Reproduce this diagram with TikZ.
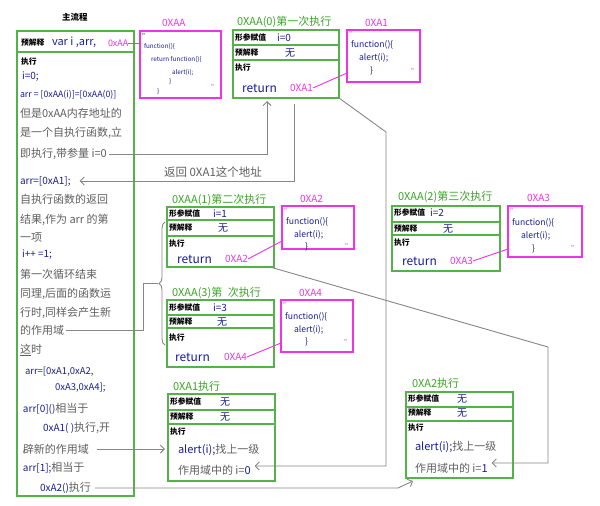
\documentclass[tikz,border=0pt]{standalone}
\usepackage{fontspec}
\setmainfont{Noto Sans CJK SC}
\usetikzlibrary{arrows.meta,calc,decorations.pathreplacing}
\definecolor{gline}{RGB}{84,178,72}
\definecolor{gtitle}{RGB}{60,165,40}
\definecolor{hblue}{RGB}{25,30,150}
\definecolor{mag}{RGB}{240,50,230}
\definecolor{hgray}{RGB}{95,95,95}
\definecolor{cgray}{RGB}{135,135,135}
\tikzset{
  gl/.style={draw=gline, line width=1.1pt},
  gbox/.style={gl, anchor=north west, inner sep=0, outer sep=0},
  mbox/.style={draw=mag, line width=1.1pt, anchor=north west, inner sep=0, outer sep=0},
  txt/.style={anchor=west, inner sep=0, outer sep=0},
  lbl/.style={txt, font=\fontsize{7.8}{8}\bfseries\selectfont, text=black},
  hw/.style={txt, font=\fontsize{11}{12}\selectfont, text=hgray},
  bl/.style={txt, font=\fontsize{10}{11}\selectfont, text=hblue},
  ret/.style={txt, font=\fontsize{12}{13}\selectfont, text=hblue},
  ttl/.style={txt, font=\fontsize{11}{12}\selectfont, text=gtitle},
  mt/.style={txt, font=\fontsize{10}{11}\selectfont, text=mag},
  code/.style={txt, font=\fontsize{8.6}{9}\selectfont, text=hblue},
  tinycode/.style={txt, font=\fontsize{6.3}{7}\selectfont, text=hblue},
  qm/.style={txt, font=\fontsize{7}{8}\selectfont, text=mag},
  conn/.style={draw=cgray, line width=0.9pt},
  arr/.style={conn, -{Straight Barb[length=4pt,width=8pt]}},
  mline/.style={draw=mag, line width=0.9pt},
}
\newcommand\boxrow[2]{\draw[gl] ([yshift=-#2]#1.north west) -- ([yshift=-#2]#1.north east);}
\begin{document}
\begin{tikzpicture}[x=1pt,y=-1pt]
\fill[white] (0,0) rectangle (600,506);
\useasboundingbox (0,0) rectangle (600,506);

% ---------------- main flow ----------------
\node[txt, font=\fontsize{8.5}{9}\bfseries\selectfont] (mtitle) at (62,17) {主流程};
\node[gbox, minimum width=117pt, minimum height=465pt] (main) at (17,31) {};
\boxrow{main}{21pt}
\node[lbl] (mpre) at (21,43) {预解释};
\node[bl, font=\fontsize{11}{11}\selectfont] (mvar) at (52,42) {var i ,arr,};
\node[mt, font=\fontsize{9}{10}\selectfont] (m0xAA) at (108,43) {0xAA};

\node[lbl] (t01) at (21,62) {执行};
\node[bl] (t02) at (22,77) {i=0;};
\node[bl, font=\fontsize{8.8}{9}\selectfont] (t03) at (20,95) {arr = [0xAA(i)]=[0xAA(0)]};
\node[hw] (t04) at (20,113) {但是0xAA内存地址的};
\node[hw] (t05) at (20,133) {是一个自执行函数,立};
\node[hw] (t06) at (20,154) {即执行,带参量 i=0};
\node[bl] (t07) at (20,181) {arr=[0xA1];};
\node[hw] (t08) at (20,199) {自执行函数的返回};
\node[hw] (t09) at (20,220) {结果,作为 arr 的第};
\node[hw] (t10) at (20,238) {一项};
\node[bl] (t11) at (22,255) {i++ =1;};
\node[hw] (t12) at (20,274) {第一次循环结束};
\node[hw] (t13) at (20,294) {同理,后面的函数运};
\node[hw] (t14) at (20,313) {行时,同样会产生新};
\node[hw] (t15) at (20,330) {的作用域};
\node[hw] (t16) at (20,350) {\underline{这}时};
\node[bl, font=\fontsize{9.5}{10}\selectfont] (t17) at (25,372) {arr=[0xA1,0xA2,};
\node[bl, font=\fontsize{9.5}{10}\selectfont] (t18) at (55,388) {0xA3,0xA4];};
\node[hw] (t19) at (23,409) {{\color{hblue}\fontsize{10}{11}\selectfont arr[0]()}相当于};
\node[hw] (t20) at (43,428) {{\color{hblue}\fontsize{10}{11}\selectfont 0xA1( )}执行,开};
\node[hw] (t21) at (23,449) {辟新的作用域};
\node[hw] (t22) at (23,468) {{\color{hblue}\fontsize{10}{11}\selectfont arr[1];}相当于};
\node[hw] (t23) at (40,488) {{\color{hblue}\fontsize{10}{11}\selectfont 0xA2()}执行};

% ---------------- 0xAA function body ----------------
\node[mt] (lAA) at (162,23) {0XAA};
\node[mbox, minimum width=81pt, minimum height=67pt] (mAA) at (140,31) {};
\node[qm, text=hblue] (qAA1) at (142,37) {"};
\node[tinycode] (cAA1) at (144,47) {function()\{};
\node[tinycode] (cAA2) at (151,60) {return function()\{};
\node[tinycode] (cAA3) at (172,73) {alert(i);};
\node[tinycode] (cAA4) at (169,82) {\}};
\node[tinycode] (cAA5) at (157,92) {\}};
\node[qm] (qAA2) at (211,88) {"};
\draw[mline] (m0xAA.east) -- (mAA.west |- m0xAA.east);

% ---------------- 0xAA(0) ----------------
\node[ttl] (tt0) at (237,22) {0XAA(0)第一次执行};
\node[gbox, minimum width=106pt, minimum height=68pt] (b0) at (233,30) {};
\boxrow{b0}{15pt}\boxrow{b0}{30pt}
\node[lbl] (b0l1) at (235,38) {形参赋值};
\node[bl] (b0v1) at (277,38) {i=0};
\node[lbl] (b0l2) at (235,53) {预解释};
\node[bl] (b0v2) at (285,53) {无};
\node[lbl] (b0l3) at (235,68) {执行};
\node[ret] (b0r) at (242,88) {return};
\node[mt] (b0a) at (290,88) {0XA1};

\node[mt] (lA1) at (365,23) {0XA1};
\node[mbox, minimum width=73pt, minimum height=52pt] (mA1) at (347,30) {};
\node[qm] (qA1a) at (349,35) {"};
\node[code] (cA1a) at (351,45) {function()\{};
\node[code] (cA1b) at (359,58) {alert(i);};
\node[code] (cA1c) at (370,71) {\}};
\node[qm] (qA1b) at (411,72) {"};
\draw[mline] (b0a.east) -- ($(mA1.south west)+(0,-9)$);

% ---------------- 0xAA(1) ----------------
\node[ttl] (tt1) at (172,200) {0XAA(1)第二次执行};
\node[gbox, minimum width=107pt, minimum height=60pt] (b1) at (167,207) {};
\boxrow{b1}{13pt}\boxrow{b1}{29pt}
\node[lbl] (b1l1) at (169,214) {形参赋值};
\node[bl] (b1v1) at (213,214) {i=1};
\node[lbl] (b1l2) at (169,228) {预解释};
\node[bl] (b1v2) at (218,228) {无};
\node[lbl] (b1l3) at (169,244) {执行};
\node[ret] (b1r) at (177,259) {return};
\node[mt] (b1a) at (225,259) {0XA2};

\node[mt] (lA2) at (300,199) {0XA2};
\node[mbox, minimum width=72pt, minimum height=43pt] (mA2) at (282,206) {};
\node[qm] (qA2a) at (284,212) {"};
\node[code] (cA2a) at (286,222) {function()\{};
\node[code] (cA2b) at (294,235) {alert(i);};
\node[code] (cA2c) at (305,247) {\}};
\node[qm] (qA2b) at (345,247) {"};
\draw[mline] (b1a.east) -- ($(mA2.south west)+(0,-8)$);

% ---------------- 0xAA(2) ----------------
\node[ttl] (tt2) at (398,197) {0XAA(2)第三次执行};
\node[gbox, minimum width=108pt, minimum height=65pt] (b2) at (392,206) {};
\boxrow{b2}{16pt}\boxrow{b2}{29pt}
\node[lbl] (b2l1) at (394,213) {形参赋值};
\node[bl] (b2v1) at (430,213) {i=2};
\node[lbl] (b2l2) at (394,229) {预解释};
\node[bl] (b2v2) at (443,229) {无};
\node[lbl] (b2l3) at (394,243) {执行};
\node[ret] (b2r) at (402,261) {return};
\node[mt] (b2a) at (450,261) {0XA3};

\node[mt] (lA3) at (527,198) {0XA3};
\node[mbox, minimum width=74pt, minimum height=51pt] (mA3) at (508,206) {};
\node[qm] (qA3a) at (510,212) {"};
\node[code] (cA3a) at (512,223) {function()\{};
\node[code] (cA3b) at (521,236) {alert(i);};
\node[code] (cA3c) at (532,249) {\}};
\node[qm] (qA3b) at (571,249) {"};
\draw[mline] (b2a.east) -- ($(mA3.south west)+(0,-8)$);

% ---------------- 0xAA(3) ----------------
\node[ttl] (tt3) at (172,293) {0XAA(3)第\,\,\,次执行};
\node[gbox, minimum width=107pt, minimum height=67pt] (b3) at (167,300) {};
\boxrow{b3}{15pt}\boxrow{b3}{28pt}
\node[lbl] (b3l1) at (169,308) {形参赋值};
\node[bl] (b3v1) at (213,308) {i=3};
\node[lbl] (b3l2) at (169,322) {预解释};
\node[bl] (b3v2) at (217,322) {无};
\node[lbl] (b3l3) at (169,338) {执行};
\node[ret] (b3r) at (175,357) {return};
\node[mt] (b3a) at (224,357) {0XA4};

\node[mt] (lA4) at (299,293) {0XA4};
\node[mbox, minimum width=72pt, minimum height=52pt] (mA4) at (281,300) {};
\node[qm] (qA4a) at (283,306) {"};
\node[code] (cA4a) at (285,317) {function()\{};
\node[code] (cA4b) at (294,330) {alert(i);};
\node[code] (cA4c) at (305,342) {\}};
\node[qm] (qA4b) at (344,343) {"};
\draw[mline] (b3a.east) -- ($(mA4.south west)+(0,-9)$);

% ---------------- 0xA1 exec ----------------
\node[ttl] (ttA1) at (173,386) {0XA1执行};
\node[gbox, minimum width=107pt, minimum height=87pt] (bA1) at (168,394) {};
\boxrow{bA1}{16pt}\boxrow{bA1}{30pt}
\node[lbl] (bA1l1) at (170,402) {形参赋值};
\node[bl] (bA1v1) at (220,402) {无};
\node[lbl] (bA1l2) at (170,417) {预解释};
\node[bl] (bA1v2) at (220,417) {无};
\node[lbl] (bA1l3) at (170,432) {执行};
\node[hw] (bA1e1) at (178,450) {{\color{hblue}alert(i);}找上一级};
\node[hw] (bA1e2) at (178,470) {作用域中的 i={\color{hblue}0}};

% ---------------- 0xA2 exec ----------------
\node[ttl] (ttA2) at (412,383) {0XA2执行};
\node[gbox, minimum width=107pt, minimum height=86pt] (bA2) at (406,392) {};
\boxrow{bA2}{15pt}\boxrow{bA2}{29pt}
\node[lbl] (bA2l1) at (408,399) {形参赋值};
\node[bl] (bA2v1) at (457,399) {无};
\node[lbl] (bA2l2) at (408,413) {预解释};
\node[bl] (bA2v2) at (457,413) {无};
\node[lbl] (bA2l3) at (408,428) {执行};
\node[hw] (bA2e1) at (415,447) {{\color{hblue}alert(i);}找上一级};
\node[hw] (bA2e2) at (415,468) {作用域中的 i={\color{hblue}1}};

% ---------------- gray connectors ----------------
\coordinate (ca) at (267,101);
\draw[arr] ([xshift=2pt]t06.east) -| (ca);

\coordinate (cb) at (294,104);
\draw[arr] (cb) |- ([xshift=9pt]t07.east);
\node[hw, anchor=center, font=\fontsize{11.5}{12}\selectfont] (retlbl) at (213,172) {返回 0XA1这个地址};

\coordinate (cc1) at (386,132);
\coordinate (cc2) at (386,466);
\draw[arr] (b0.south east) -- (cc1) -- (cc2) -- ([xshift=4pt]bA1e2.east |- cc2);

\coordinate (cd1) at (548,347);
\coordinate (cd2) at (548,463);
\draw[arr] ([xshift=-4pt]b1.south east) -- (cd1) -- (cd2) -- ([xshift=4pt]bA2e2.east |- cd2);

\draw[arr] ([xshift=8pt]t21.east) -- ([xshift=-3pt]bA1.west |- t21.east);

\coordinate (cf) at (398,488);
\draw[arr] ([xshift=4pt]t23.east) -- (cf) -- ([xshift=7pt,yshift=-3pt]bA2.south west);

\coordinate (cg) at (143,283);
\coordinate (btip) at (158,283);
\draw[conn] ([xshift=2pt]t15.east) -| (cg) -- (btip);
\draw[conn, decorate, decoration={brace, amplitude=6pt}] (165,345) -- (165,222);
\end{tikzpicture}
\end{document}
